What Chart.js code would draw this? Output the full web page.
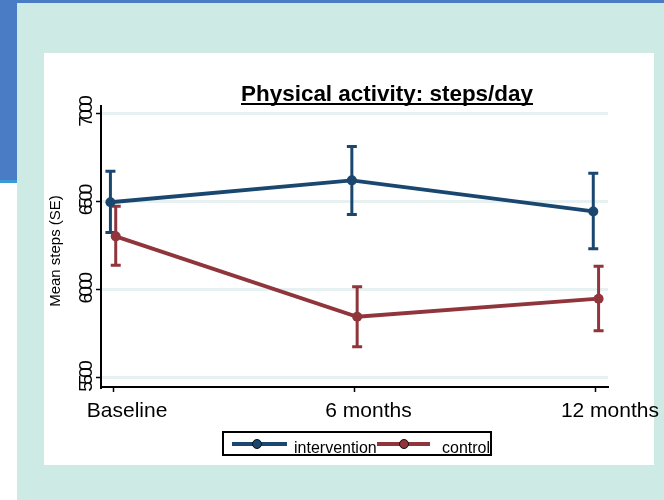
<!DOCTYPE html>
<html><head><meta charset="utf-8">
<script src="https://cdn.jsdelivr.net/npm/chart.js@4"></script>
<style>html,body{margin:0;padding:0;background:#fff;overflow:hidden}#c{display:block}</style>
</head><body>
<canvas id="c" width="664" height="500"></canvas>
<script>
// ---- data ----
const categories = ['Baseline', '6 months', '12 months'];
const categoryX = [0, 1, 2];
const interventionMean = [6495, 6619, 6443];
const interventionLow  = [6324, 6426, 6232];
const interventionHigh = [6670, 6811, 6659];
const controlMean = [6302, 5847, 5949];
const controlLow  = [6138, 5677, 5768];
const controlHigh = [6472, 6017, 6132];
const yTicks = [5500, 6000, 6500, 7000];
const seriesNames = ['intervention', 'control'];
const titleText = 'Physical activity: steps/day';
const yTitle = 'Mean steps (SE)';

const NAVY = '#1a476f', MAROON = '#90353b';
const FONT = '"Liberation Sans", Arial, Helvetica, sans-serif';
const dodge = [-0.011, 0.011];

function pts(mean, d){ return categoryX.map((x,i)=>({x:x+d, y:mean[i]})); }

const errorSets = [
  {low: interventionLow, high: interventionHigh, color: NAVY, d: dodge[0]},
  {low: controlLow, high: controlHigh, color: MAROON, d: dodge[1]}
];

const bgPlugin = {
  id:'bg',
  beforeDraw(chart){
    const c = chart.ctx;
    c.save();
    c.fillStyle = '#cdeae5'; c.fillRect(0,0,664,500);
    c.fillStyle = '#4a7cc6'; c.fillRect(0,0,664,3); c.fillRect(0,0,17,180);
    c.fillStyle = '#3a9ad8'; c.fillRect(0,180,17,3);
    c.fillStyle = '#ffffff'; c.fillRect(0,183,17,317);
    c.fillStyle = '#ffffff'; c.fillRect(44,53,610,412);
    c.restore();
  }
};

const errPlugin = {
  id:'err',
  beforeDatasetsDraw(chart){
    const c = chart.ctx, xs = chart.scales.x, ys = chart.scales.y;
    c.save();
    errorSets.forEach(s=>{
      c.strokeStyle = s.color; c.lineWidth = 3; c.lineCap = 'butt';
      categoryX.forEach((x,i)=>{
        const px = xs.getPixelForValue(x + s.d);
        const y1 = ys.getPixelForValue(s.low[i]);
        const y2 = ys.getPixelForValue(s.high[i]);
        c.beginPath(); c.moveTo(px,y1); c.lineTo(px,y2); c.stroke();
        c.beginPath(); c.moveTo(px-5,y1); c.lineTo(px+5,y1); c.moveTo(px-5,y2); c.lineTo(px+5,y2); c.stroke();
      });
    });
    c.restore();
  }
};

const textPlugin = {
  id:'texts',
  afterDraw(chart){
    const c = chart.ctx, ys = chart.scales.y;
    c.save();
    // title (condensed, bold, underlined)
    c.font = 'bold 22px ' + FONT;
    c.fillStyle = '#000';
    const tw = c.measureText(titleText).width;
    const target = 292, cx = 387, by = 101;
    const sx = target / tw;
    c.save();
    c.translate(cx - target/2, by);
    c.scale(sx, 1);
    c.textBaseline = 'alphabetic'; c.textAlign = 'left';
    c.fillText(titleText, 0, 0);
    c.restore();
    c.fillRect(cx - target/2, by + 2, target, 2);

    // y tick labels: rotated, tightly packed digits
    c.font = '19px ' + FONT;
    c.textBaseline = 'middle'; c.textAlign = 'left';
    yTicks.forEach(v=>{
      const py = ys.getPixelForValue(v) - 2;
      const s = String(v);
      const step = 7, gw = c.measureText('0').width;
      const len = step*(s.length-1) + gw;
      c.save();
      c.translate(87, py + len/2);
      c.rotate(-Math.PI/2);
      for (let k=0;k<s.length;k++) c.fillText(s[k], k*step, 0);
      c.restore();
    });

    // y axis title
    c.font = '15px ' + FONT;
    c.textAlign = 'center'; c.textBaseline = 'middle';
    c.save();
    c.translate(56, 251);
    c.rotate(-Math.PI/2);
    c.fillText(yTitle, 0, 0);
    c.restore();

    // legend
    c.fillStyle = '#fff';
    c.fillRect(222, 431, 270, 25);
    c.strokeStyle = '#000'; c.lineWidth = 2;
    c.strokeRect(223, 432, 268, 23);
    const items = [
      {name: seriesNames[0], color: NAVY, x0: 232, x1: 287, mx: 257, tx: 294},
      {name: seriesNames[1], color: MAROON, x0: 377, x1: 430, mx: 404, tx: 442}
    ];
    items.forEach(it=>{
      c.strokeStyle = it.color; c.lineWidth = 4;
      c.beginPath(); c.moveTo(it.x0, 444); c.lineTo(it.x1, 444); c.stroke();
      c.beginPath(); c.arc(it.mx, 444, 4.5, 0, Math.PI*2);
      c.fillStyle = it.color; c.fill();
      c.strokeStyle = '#111'; c.lineWidth = 1; c.stroke();
      c.fillStyle = '#000';
      c.font = '16px ' + FONT; c.textAlign = 'left'; c.textBaseline = 'alphabetic';
      c.fillText(it.name, it.tx, 453);
    });
    c.restore();
  }
};

new Chart(document.getElementById('c'), {
  type: 'line',
  data: {
    datasets: [
      {label: seriesNames[0], data: pts(interventionMean, dodge[0]), borderColor: NAVY, backgroundColor: NAVY,
       borderWidth: 3.8, pointRadius: 5, pointBorderWidth: 0, pointBackgroundColor: NAVY, tension: 0},
      {label: seriesNames[1], data: pts(controlMean, dodge[1]), borderColor: MAROON, backgroundColor: MAROON,
       borderWidth: 3.8, pointRadius: 5, pointBorderWidth: 0, pointBackgroundColor: MAROON, tension: 0}
    ]
  },
  options: {
    responsive: false, animation: false, devicePixelRatio: 1,
    layout: {padding: {left: 0, top: 106, right: 56, bottom: 0}},
    plugins: {legend: {display: false}, title: {display: false}, tooltip: {enabled: false}},
    scales: {
      x: {
        type: 'linear', min: -0.05, max: 2.05,
        afterBuildTicks(s){ s.ticks = categoryX.map(v=>({value:v})); },
        afterFit(s){ s.height = 113; },
        ticks: {callback: (v)=>categories[Math.round(v)], font: {size: 21, family: FONT}, color: '#000',
                labelOffset: 14, padding: 7, maxRotation: 0, autoSkip: false},
        grid: {drawOnChartArea: false, drawTicks: true, tickLength: 5, tickColor: '#000', tickWidth: 1.5},
        border: {display: true, color: '#000', width: 2}
      },
      y: {
        type: 'linear', min: 5449, max: 7040,
        afterBuildTicks(s){ s.ticks = yTicks.map(v=>({value:v})); },
        afterFit(s){ s.width = 101; },
        ticks: {display: false},
        grid: {color: '#e8f1f2', lineWidth: 3, drawTicks: true, tickLength: 5, tickColor: '#000', tickWidth: 1.5},
        border: {display: true, color: '#000', width: 2}
      }
    }
  },
  plugins: [bgPlugin, errPlugin, textPlugin]
});
</script>
</body></html>
